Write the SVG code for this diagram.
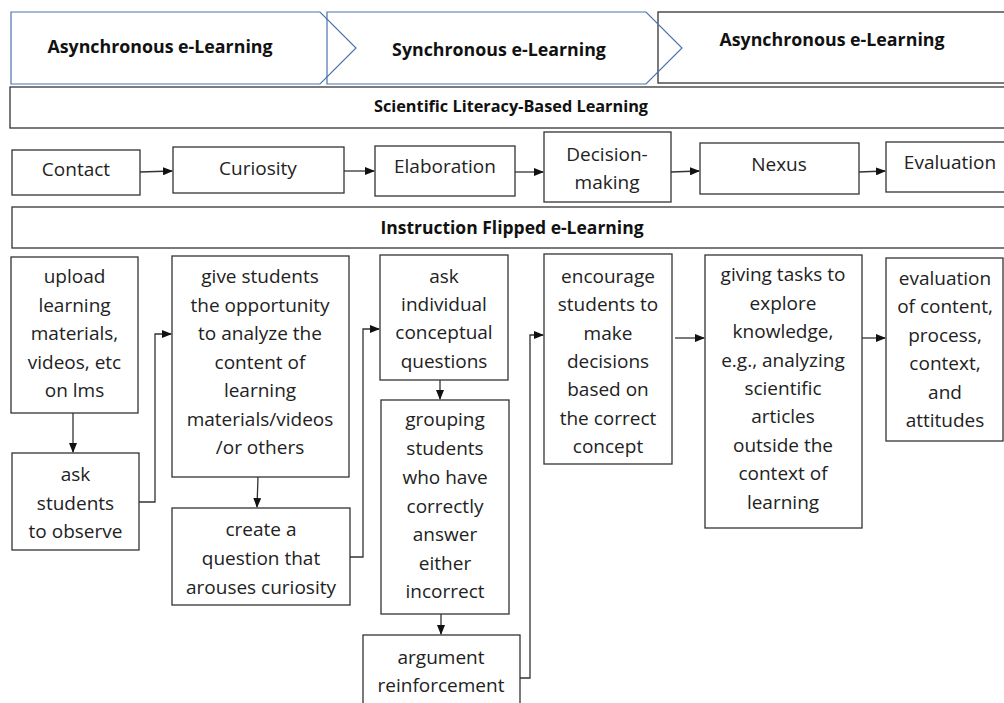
<svg xmlns="http://www.w3.org/2000/svg" width="1004" height="703" viewBox="0 0 1004 703">
<defs>
<style>
.box{fill:#fff;stroke:#333;stroke-width:1.3}
.chev{fill:none;stroke:#4a72b0;stroke-width:1.2}
.t{font-family:"Open Sans","Liberation Sans",sans-serif;font-size:19px;fill:#222;text-anchor:middle}
.h{font-family:"Open Sans","Liberation Sans",sans-serif;font-weight:bold;fill:#111;text-anchor:middle}
.c{fill:none;stroke:#333;stroke-width:1.3}
</style>
<marker id="ah" markerUnits="userSpaceOnUse" markerWidth="10" markerHeight="8" refX="9" refY="4" orient="auto">
<path d="M0,0 L10,4 L0,8 Z" fill="#111"/>
</marker>
</defs>
<rect width="1004" height="703" fill="#fff"/>

<g id="phase3"><rect class="box" x="658" y="12" width="352" height="71"/><text class="h" x="832" y="46" font-size="17.8">Asynchronous e-Learning</text></g>
<g id="phase1"><polygon class="chev" points="11,12 320,12 356,48 320,84 11,84"/><text class="h" x="160" y="53" font-size="17.8">Asynchronous e-Learning</text></g>
<g id="phase2"><polygon class="chev" points="327,12 646,12 682,48 646,84 327,84"/><text class="h" x="499" y="56" font-size="17.8">Synchronous e-Learning</text></g>

<g id="slbl"><rect class="box" x="10" y="87" width="1000" height="41"/><text class="h" x="511" y="112" font-size="16.3">Scientific Literacy-Based Learning</text></g>

<g id="contact"><rect class="box" x="12" y="150" width="128" height="45"/><text class="t" x="76" y="176">Contact</text></g>
<g id="curiosity"><rect class="box" x="173" y="147" width="171" height="46"/><text class="t" x="258" y="175">Curiosity</text></g>
<g id="elaboration"><rect class="box" x="375" y="146" width="140" height="50"/><text class="t" x="445" y="173">Elaboration</text></g>
<g id="decision"><rect class="box" x="544" y="132" width="127" height="70"/><text class="t" x="607" y="161">Decision-</text><text class="t" x="607" y="189">making</text></g>
<g id="nexus"><rect class="box" x="700" y="143" width="159" height="51"/><text class="t" x="779" y="171">Nexus</text></g>
<g id="evaluation"><rect class="box" x="886" y="142" width="124" height="50"/><text class="t" x="950" y="169">Evaluation</text></g>

<g id="iflipped"><rect class="box" x="12" y="207" width="998" height="41"/><text class="h" x="512" y="234" font-size="17.5">Instruction Flipped e-Learning</text></g>

<g id="upload"><rect class="box" x="11" y="257" width="127" height="156"/>
<text class="t" x="74.5" y="283">upload</text><text class="t" x="74.5" y="312">learning</text><text class="t" x="74.5" y="340">materials,</text><text class="t" x="74.5" y="369">videos, etc</text><text class="t" x="74.5" y="397">on lms</text></g>
<g id="askobserve"><rect class="box" x="12" y="453" width="127" height="97"/>
<text class="t" x="75.5" y="481">ask</text><text class="t" x="75.5" y="510">students</text><text class="t" x="75.5" y="538">to observe</text></g>
<g id="givestudents"><rect class="box" x="172" y="256" width="177" height="221"/>
<text class="t" x="260" y="283">give students</text><text class="t" x="260" y="312">the opportunity</text><text class="t" x="260" y="340">to analyze the</text><text class="t" x="260" y="369">content of</text><text class="t" x="260" y="397">learning</text><text class="t" x="260" y="426">materials/videos</text><text class="t" x="260" y="454">/or others</text></g>
<g id="createq"><rect class="box" x="172" y="508" width="178" height="97"/>
<text class="t" x="261" y="536">create a</text><text class="t" x="261" y="565">question that</text><text class="t" x="261" y="594">arouses curiosity</text></g>
<g id="askindividual"><rect class="box" x="380" y="255" width="128" height="125"/>
<text class="t" x="444" y="283">ask</text><text class="t" x="444" y="311">individual</text><text class="t" x="444" y="339">conceptual</text><text class="t" x="444" y="368">questions</text></g>
<g id="grouping"><rect class="box" x="381" y="400" width="128" height="214"/>
<text class="t" x="445" y="426">grouping</text><text class="t" x="445" y="455">students</text><text class="t" x="445" y="484">who have</text><text class="t" x="445" y="513">correctly</text><text class="t" x="445" y="541">answer</text><text class="t" x="445" y="570">either</text><text class="t" x="445" y="598">incorrect</text></g>
<g id="argument"><rect class="box" x="363" y="635" width="157" height="80"/>
<text class="t" x="441" y="664">argument</text><text class="t" x="441" y="692">reinforcement</text></g>
<g id="encourage"><rect class="box" x="544" y="254" width="128" height="210"/>
<text class="t" x="608" y="283">encourage</text><text class="t" x="608" y="311">students to</text><text class="t" x="608" y="340">make</text><text class="t" x="608" y="368">decisions</text><text class="t" x="608" y="396">based on</text><text class="t" x="608" y="425">the correct</text><text class="t" x="608" y="453">concept</text></g>
<g id="givingtasks"><rect class="box" x="705" y="255" width="157" height="273"/>
<text class="t" x="783" y="281">giving tasks to</text><text class="t" x="783" y="310">explore</text><text class="t" x="783" y="338">knowledge,</text><text class="t" x="783" y="367">e.g., analyzing</text><text class="t" x="783" y="395">scientific</text><text class="t" x="783" y="423">articles</text><text class="t" x="783" y="452">outside the</text><text class="t" x="783" y="480">context of</text><text class="t" x="783" y="509">learning</text></g>
<g id="evalcontent"><rect class="box" x="886" y="258" width="117" height="183"/>
<text class="t" x="945" y="285">evaluation</text><text class="t" x="945" y="313">of content,</text><text class="t" x="945" y="342">process,</text><text class="t" x="945" y="370">context,</text><text class="t" x="945" y="399">and</text><text class="t" x="945" y="427">attitudes</text></g>

<g id="connectors">
<path class="c" d="M140,172 L172,171" marker-end="url(#ah)"/>
<path class="c" d="M344,171 L374,171" marker-end="url(#ah)"/>
<path class="c" d="M515,172 L543,172" marker-end="url(#ah)"/>
<path class="c" d="M671,172 L699,171" marker-end="url(#ah)"/>
<path class="c" d="M859,172 L885,171" marker-end="url(#ah)"/>
<path class="c" d="M73,413 L73,452" marker-end="url(#ah)"/>
<path class="c" d="M139,502 L155,502 L155,334 L171,334" marker-end="url(#ah)"/>
<path class="c" d="M258,477 L257,507" marker-end="url(#ah)"/>
<path class="c" d="M350,557 L363,557 L363,329 L379,329" marker-end="url(#ah)"/>
<path class="c" d="M440,380 L440,399" marker-end="url(#ah)"/>
<path class="c" d="M441,614 L441,634" marker-end="url(#ah)"/>
<path class="c" d="M520,678 L530,678 L530,335 L543,335" marker-end="url(#ah)"/>
<path class="c" d="M675,338 L704,338" marker-end="url(#ah)"/>
<path class="c" d="M862,338 L885,338" marker-end="url(#ah)"/>
</g>
</svg>
